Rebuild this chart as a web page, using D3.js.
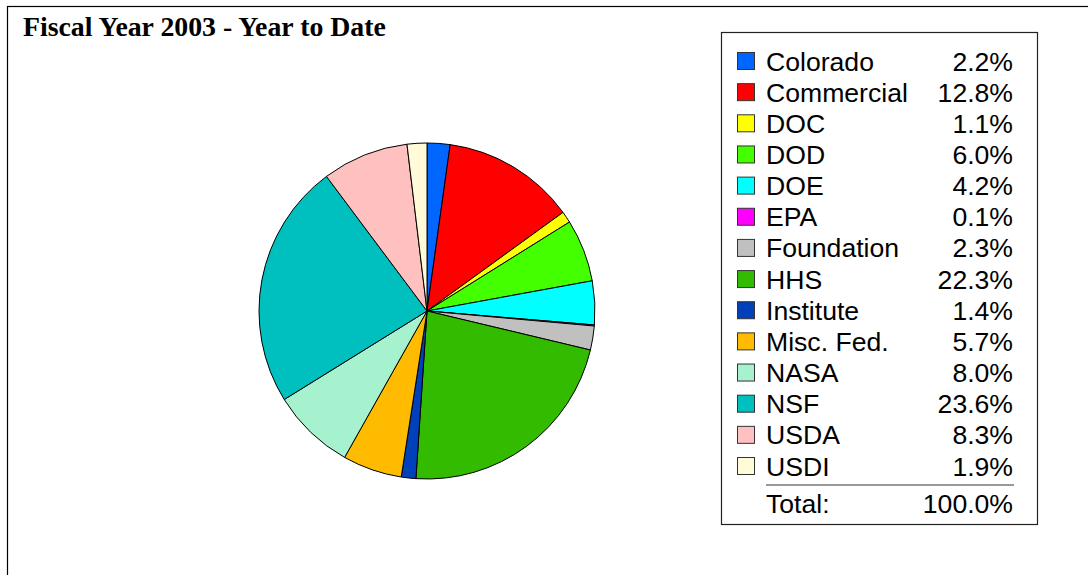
<!DOCTYPE html>
<html>
<head>
<meta charset="utf-8">
<script src="https://cdn.jsdelivr.net/npm/d3@7/dist/d3.min.js"></script>
<style>
  html, body { margin: 0; padding: 0; background: #fff; }
  svg { display: block; }
</style>
</head>
<body>
<svg id="chart" width="1088" height="575"></svg>
<script>
// ---- Data ----
const title = "Fiscal Year 2003 - Year to Date";
const categories = ["Colorado", "Commercial", "DOC", "DOD", "DOE", "EPA", "Foundation",
  "HHS", "Institute", "Misc. Fed.", "NASA", "NSF", "USDA", "USDI"];
const values = [2.2, 12.8, 1.1, 6.0, 4.2, 0.1, 2.3, 22.3, 1.4, 5.7, 8.0, 23.6, 8.3, 1.9];
const colors = ["#0066FF", "#FF0000", "#FFFF00", "#44FF00", "#00FFFF", "#FF00FF", "#C0C0C0",
  "#33BB00", "#0040BB", "#FFBB00", "#A6F2CE", "#00BFBF", "#FFC0C0", "#FFFAD8"];
const totalLabel = "Total:";
const totalValue = "100.0%";

// ---- Drawing ----
const svg = d3.select("#chart");
svg.append("rect").attr("x", 7.5).attr("y", 6.5).attr("width", 1090).attr("height", 600)
  .attr("fill", "#fff").attr("stroke", "#000").attr("stroke-width", 1.2);

svg.append("text").attr("x", 23).attr("y", 36)
  .attr("font-family", "'Liberation Serif', 'Times New Roman', serif")
  .attr("font-weight", "bold").attr("font-size", 27.8).attr("fill", "#000")
  .text(title);

const cx = 427, cy = 311, r = 168;
const pie = d3.pie().sort(null).value(d => d.v);
const arc = d3.arc().innerRadius(0).outerRadius(r);
const data = categories.map((c, i) => ({ c, v: values[i], col: colors[i] }));
svg.append("g").attr("transform", `translate(${cx},${cy})`)
  .selectAll("path").data(pie(data)).join("path")
  .attr("d", arc).attr("fill", d => d.data.col)
  .attr("stroke", "#000").attr("stroke-width", 1).attr("stroke-linejoin", "round");

// Legend
const lg = svg.append("g");
lg.append("rect").attr("x", 721.5).attr("y", 32.5).attr("width", 316).attr("height", 492)
  .attr("fill", "#fff").attr("stroke", "#222").attr("stroke-width", 1.2);

const rowY = d3.scalePoint().domain(categories).range([61, 466]);
const font = "'Liberation Sans', Arial, sans-serif";
const fs = 26.6;
const rows = lg.selectAll("g.row").data(data).join("g").attr("class", "row")
  .attr("transform", d => `translate(0,${rowY(d.c)})`);
rows.append("rect").attr("x", 737.5).attr("y", -8.5).attr("width", 17).attr("height", 17)
  .attr("fill", d => d.col).attr("stroke", "#333").attr("stroke-width", 1);
rows.append("text").attr("x", 766).attr("y", 9.5)
  .attr("font-family", font).attr("font-size", fs).attr("fill", "#000")
  .text(d => d.c);
rows.append("text").attr("x", 1013).attr("y", 9.5).attr("text-anchor", "end")
  .attr("font-family", font).attr("font-size", fs).attr("fill", "#000")
  .text(d => d.v.toFixed(1) + "%");

lg.append("line").attr("x1", 766).attr("x2", 1014).attr("y1", 485).attr("y2", 485)
  .attr("stroke", "#777").attr("stroke-width", 1.5);
lg.append("text").attr("x", 766).attr("y", 512.5)
  .attr("font-family", font).attr("font-size", fs).attr("fill", "#000").text(totalLabel);
lg.append("text").attr("x", 1013).attr("y", 512.5).attr("text-anchor", "end")
  .attr("font-family", font).attr("font-size", fs).attr("fill", "#000").text(totalValue);
</script>
</body>
</html>
